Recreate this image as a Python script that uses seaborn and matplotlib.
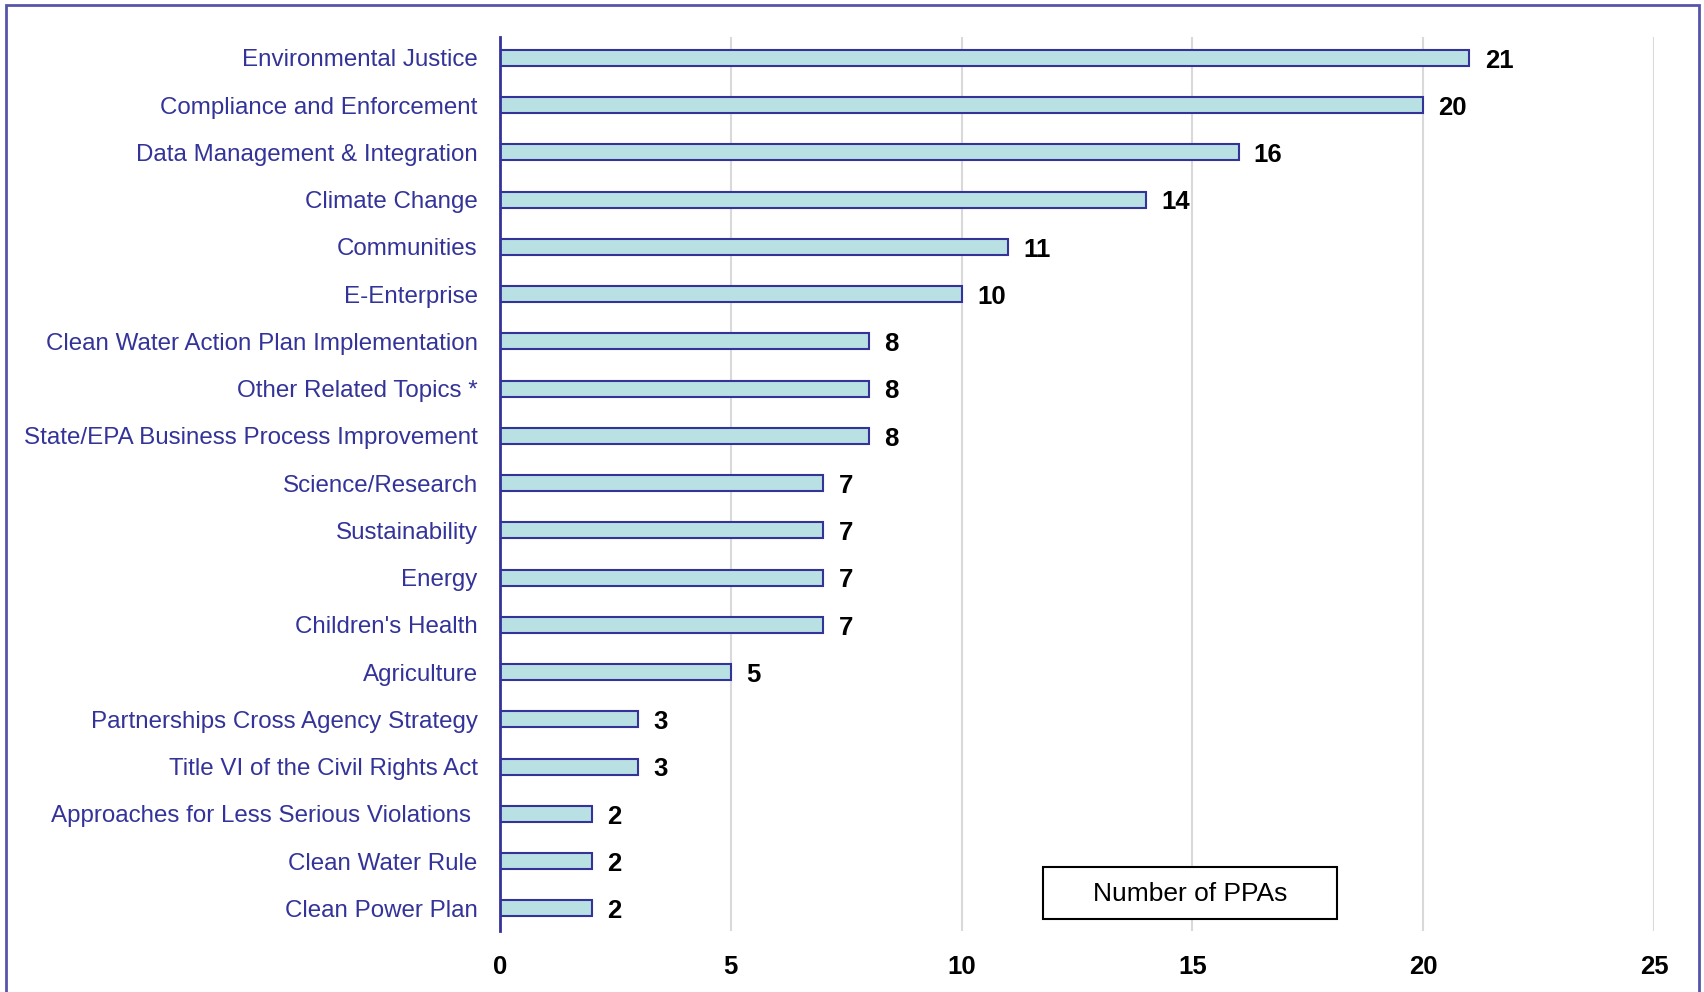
import matplotlib
matplotlib.use("Agg")
import matplotlib.pyplot as plt
import matplotlib.patches as mpatches
import pandas as pd
import seaborn as sns

topics = [
    "Environmental Justice",
    "Compliance and Enforcement",
    "Data Management & Integration",
    "Climate Change",
    "Communities",
    "E-Enterprise",
    "Clean Water Action Plan Implementation",
    "Other Related Topics *",
    "State/EPA Business Process Improvement",
    "Science/Research",
    "Sustainability",
    "Energy",
    "Children's Health",
    "Agriculture",
    "Partnerships Cross Agency Strategy",
    "Title VI of the Civil Rights Act",
    "Approaches for Less Serious Violations ",
    "Clean Water Rule",
    "Clean Power Plan",
]
counts = [21, 20, 16, 14, 11, 10, 8, 8, 8, 7, 7, 7, 7, 5, 3, 3, 2, 2, 2]
x_ticks = [0, 5, 10, 15, 20, 25]

navy = "#333399"
fill = "#B9E0E2"

sns.set_style("white")
plt.rcParams["font.family"] = ["Liberation Sans", "DejaVu Sans"]

df = pd.DataFrame({"topic": topics, "count": counts})

fig = plt.figure(figsize=(17.04, 9.92), dpi=100)
ax = fig.add_axes([0.2934, 0.0615, 0.6773, 0.9012])

sns.barplot(data=df, x="count", y="topic", orient="h", color=fill,
            edgecolor=navy, linewidth=1.5, width=0.34, saturation=1, ax=ax)

ax.set_xlim(0, 25)
ax.set_ylim(18.48, -0.44)
ax.set_xticks(x_ticks)
ax.set_xticklabels([str(t) for t in x_ticks], fontsize=18.5, fontweight="bold", color="black")
ax.tick_params(axis="x", length=0, pad=17)
ax.tick_params(axis="y", length=0, pad=16, labelsize=17.4, labelcolor=navy)
ax.set_xlabel("")
ax.set_ylabel("")

ax.grid(axis="x", color="#D9D9D9", linewidth=1.5)
ax.set_axisbelow(True)
for s in ["top", "right", "bottom"]:
    ax.spines[s].set_visible(False)
ax.spines["left"].set_color(navy)
ax.spines["left"].set_linewidth(2)

for i, v in enumerate(counts):
    ax.annotate(str(v), xy=(v, i), xytext=(11, -2), textcoords="offset points",
                va="center", ha="left", fontsize=18.5, fontweight="bold", color="black")

# legend-like box
box = mpatches.Rectangle((0.4705, 0.0134), 0.2548, 0.0582, transform=ax.transAxes,
                         facecolor="white", edgecolor="black", linewidth=1.5, zorder=5)
ax.add_patch(box)
ax.text(0.598, 0.041, "Number of PPAs", transform=ax.transAxes, ha="center", va="center",
        fontsize=19, color="black", zorder=6)

# outer chart border
border = mpatches.Rectangle((6 / 1704, -0.02), (1699 - 6) / 1704, 1.02 - 5 / 992,
                            transform=fig.transFigure, fill=False, edgecolor="#5555AA",
                            linewidth=2, clip_on=False)
fig.patches.append(border)

fig.savefig("out.png", dpi=100)
